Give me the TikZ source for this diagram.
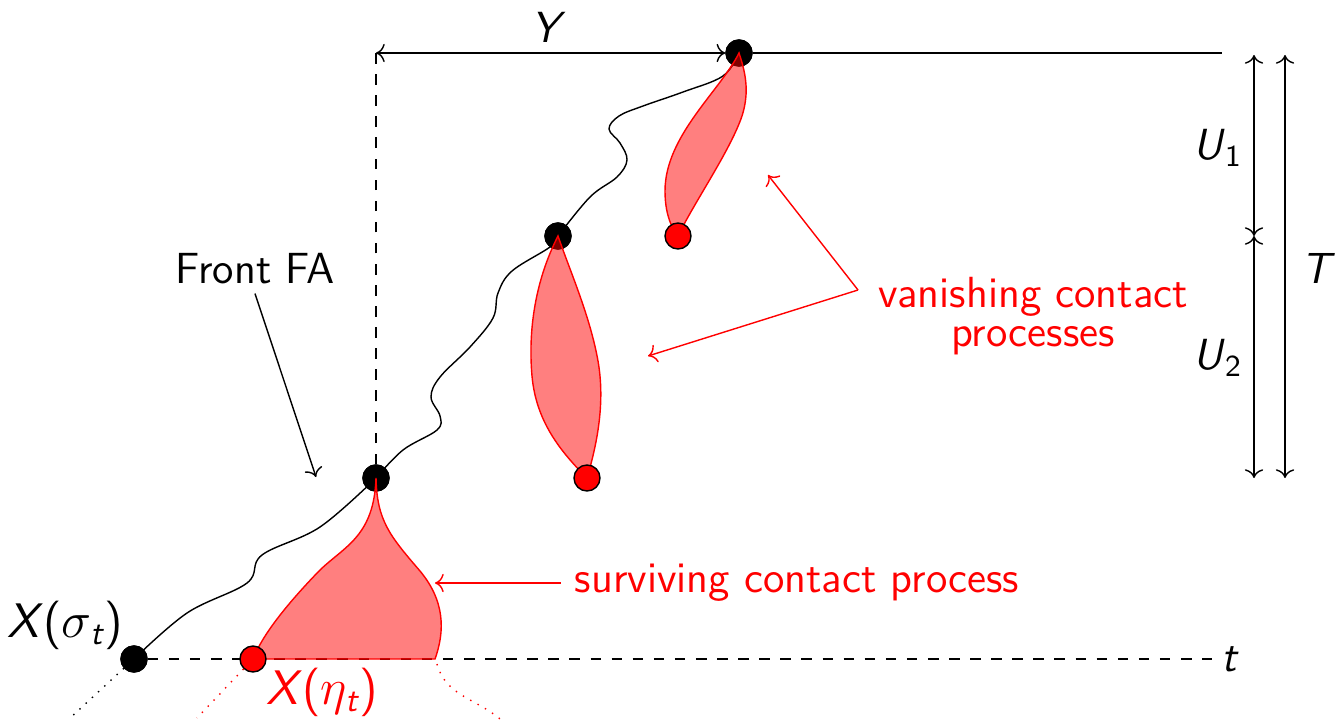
\documentclass[tikz,border=0pt]{standalone}
\usepackage{amsmath}
\usepackage{tikz}
\usetikzlibrary{arrows.meta,positioning,calc}
\tikzset{
  front/.style={circle, fill=black, draw=black, minimum size=2.6mm, inner sep=0pt},
  seed/.style={circle, fill=red, draw=black, minimum size=2.6mm, inner sep=0pt},
  cproc/.style={draw=red, fill=red, fill opacity=0.5},
  lbl/.style={font=\sffamily\fontsize{12.4}{11}\selectfont, inner sep=1pt},
  xlbl/.style={lbl, font=\sffamily\fontsize{13.8}{14}\selectfont},
  redlbl/.style={lbl, text=red},
  redarr/.style={->, red},
}
\newcommand{\sv}[1]{\textit{#1}}

\begin{document}
\begin{tikzpicture}
\useasboundingbox (0,0) rectangle (13.4,7.21);

% front points and seeds
\node[front] (s0) at (1.34,0.62) {};
\node[front] (s1) at (3.76,2.43) {};
\node[front] (s2) at (5.58,4.85) {};
\node[front] (s3) at (7.39,6.68) {};
\coordinate (tend) at (12.22,6.68);
\coordinate (bend) at (12.12,0.62);

% axes
\draw[dashed] (s0) -- (bend);
\draw[dashed] (s1) -- (s1 |- s3);
\draw (s3) -- (tend);
\draw[<->] (s1 |- s3) -- (s3.west);

% front path
\draw plot[smooth, tension=0.6] coordinates {(s0.center) (1.87,1.08) (2.47,1.38) (2.62,1.66) (3.20,1.94) (s1.center)};
\draw plot[smooth, tension=0.6] coordinates {(s1.center) (4.03,2.71) (4.37,2.91) (4.40,3.05) (4.31,3.24) (4.40,3.44) (4.70,3.74) (4.93,4.03) (4.98,4.28) (5.12,4.50) (5.50,4.74) (s2.center)};
\draw plot[smooth, tension=0.6] coordinates {(s2.center) (5.90,5.24) (6.17,5.44) (6.27,5.61) (6.20,5.78) (6.09,5.92) (6.19,6.05) (6.43,6.15) (6.83,6.29) (7.23,6.45) (s3.center)};

\node[front] at (s0) {};
\node[front] at (s1) {};
\node[front] at (s2) {};
\node[front] at (s3) {};

% contact processes
\coordinate (e0) at (2.53,0.62);
\coordinate (e1) at (5.87,2.43);
\coordinate (e2) at (6.78,4.85);
\coordinate (sv0) at (4.35,0.62);
\draw[cproc] (s1.center) .. controls (3.74,1.85) and (3.45,1.75) .. (3.2,1.51)
  .. controls (2.85,1.15) and (2.62,0.85) .. (e0) -- (sv0)
  .. controls (4.45,0.9) and (4.45,1.2) .. (4.2,1.5)
  .. controls (3.9,1.85) and (3.77,2.0) .. (s1.center) -- cycle;
\draw[cproc] (s2.center) .. controls (5.35,4.4) and (5.28,3.9) .. (5.32,3.45)
  .. controls (5.36,3.0) and (5.6,2.7) .. (e1)
  .. controls (5.98,2.8) and (6.05,3.2) .. (5.98,3.6)
  .. controls (5.9,4.05) and (5.7,4.5) .. (s2.center) -- cycle;
\draw[cproc] (s3.center) .. controls (7.2,6.3) and (6.65,5.85) .. (6.65,5.3)
  .. controls (6.65,5.1) and (6.7,4.95) .. (e2)
  .. controls (6.95,5.2) and (7.3,5.7) .. (7.42,6.05)
  .. controls (7.5,6.3) and (7.45,6.5) .. (s3.center) -- cycle;

\node[seed] (r0) at (e0) {};
\node[seed] (r1) at (e1) {};
\node[seed] (r2) at (e2) {};

% continuation below t
\coordinate (d0) at (0.70,0.03);
\coordinate (d1) at (1.97,0.03);
\coordinate (d2) at (5.00,0.02);
\draw[dotted] (s0) -- (d0);
\draw[dotted, red] (r0) -- (d1);
\draw[dotted, red] (4.37,0.57) to[out=-75,in=140] (d2);

% times
\coordinate (utop) at (12.54,6.66);
\coordinate (umid) at (12.54,4.85);
\coordinate (ubot) at (12.54,2.43);
\draw[<->] (utop) -- (umid);
\draw[<->] (umid) -- (ubot);
\draw[<->] (utop -| 12.85,0) -- (ubot -| 12.85,0);

% labels
\node[lbl] (ylab) at (5.49,6.94) {\sv{Y}};
\node[lbl] (u1lab) at (12.18,5.73) {\sv{U}$_{\text{1}}$};
\node[lbl] (u2lab) at (12.18,3.63) {\sv{U}$_{\text{2}}$};
\node[lbl] (tlab) at (13.18,4.53) {\sv{T}};
\node[lbl, right=0.5mm of bend] (tt) {\sv{t}};
\node[xlbl] (xs) at (0.65,0.96) {\sv{X}($\sigma_{\text{\itshape t}}$)};
\node[xlbl, text=red] (xe) at (3.22,0.29) {\sv{X}($\eta_{\text{\itshape t}}$)};

\node[lbl] (ffa) at (2.55,4.52) {Front FA};
\coordinate (ffatip) at (3.16,2.44);
\draw[->] ([yshift=-0.5mm]ffa.south) -- (ffatip);

\node[redlbl] (surv) at (7.97,1.38) {surviving contact process};
\coordinate (survtip) at (4.35,1.38);
\draw[redarr] ([xshift=-1mm]surv.west) -- (survtip);

\node[redlbl, align=center] (vanish) at (10.33,4.05) {vanishing contact\\processes};
\coordinate (vsrc) at (8.58,4.31);
\coordinate (vtip1) at (7.68,5.46);
\coordinate (vtip2) at (6.48,3.65);
\draw[redarr] (vsrc) -- (vtip1);
\draw[redarr] (vsrc) -- (vtip2);
\end{tikzpicture}
\end{document}
